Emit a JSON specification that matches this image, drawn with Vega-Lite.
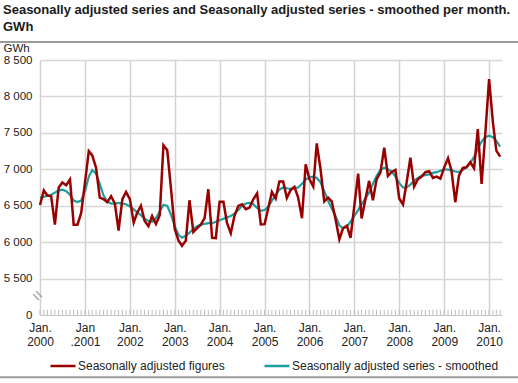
{
  "$schema": "https://vega.github.io/schema/vega-lite/v6.json",
  "width": 462,
  "height": 255,
  "autosize": {"type": "none"},
  "padding": {"left": 40, "top": 60, "right": 16, "bottom": 68},
  "background": "white",
  "config": {"font": "Liberation Sans", "view": {"stroke": null}},
  "title": {
    "text": ["Seasonally adjusted series and Seasonally adjusted series - smoothed per month.", "GWh"],
    "anchor": "start",
    "frame": "group",
    "dx": -37,
    "offset": 7,
    "fontSize": 13,
    "fontWeight": "bold",
    "font": "Liberation Sans",
    "color": "#1a1a1a",
    "lineHeight": 17
  },
  "data": {"values": [
    {"d":"2000-01-01","a":6510,"s":6610},{"d":"2000-02-01","a":6710,"s":6620},{"d":"2000-03-01","a":6640,"s":6640},{"d":"2000-04-01","a":6630,"s":6650},
    {"d":"2000-05-01","a":6240,"s":6680},{"d":"2000-06-01","a":6750,"s":6710},{"d":"2000-07-01","a":6820,"s":6720},{"d":"2000-08-01","a":6780,"s":6700},
    {"d":"2000-09-01","a":6860,"s":6650},{"d":"2000-10-01","a":6240,"s":6570},{"d":"2000-11-01","a":6240,"s":6550},{"d":"2000-12-01","a":6400,"s":6570},
    {"d":"2001-01-01","a":6820,"s":6700},{"d":"2001-02-01","a":7250,"s":6900},{"d":"2001-03-01","a":7190,"s":6990},{"d":"2001-04-01","a":7020,"s":6940},
    {"d":"2001-05-01","a":6610,"s":6800},{"d":"2001-06-01","a":6590,"s":6640},{"d":"2001-07-01","a":6550,"s":6560},{"d":"2001-08-01","a":6630,"s":6530},
    {"d":"2001-09-01","a":6530,"s":6530},{"d":"2001-10-01","a":6160,"s":6540},{"d":"2001-11-01","a":6590,"s":6530},{"d":"2001-12-01","a":6690,"s":6520},
    {"d":"2002-01-01","a":6590,"s":6490},{"d":"2002-02-01","a":6270,"s":6450},{"d":"2002-03-01","a":6400,"s":6410},{"d":"2002-04-01","a":6500,"s":6370},
    {"d":"2002-05-01","a":6290,"s":6320},{"d":"2002-06-01","a":6220,"s":6290},{"d":"2002-07-01","a":6360,"s":6280},{"d":"2002-08-01","a":6250,"s":6330},
    {"d":"2002-09-01","a":6370,"s":6420},{"d":"2002-10-01","a":7330,"s":6510},{"d":"2002-11-01","a":7260,"s":6500},{"d":"2002-12-01","a":6740,"s":6380},
    {"d":"2003-01-01","a":6180,"s":6220},{"d":"2003-02-01","a":6020,"s":6100},{"d":"2003-03-01","a":5950,"s":6060},{"d":"2003-04-01","a":6020,"s":6090},
    {"d":"2003-05-01","a":6575,"s":6130},{"d":"2003-06-01","a":6140,"s":6180},{"d":"2003-07-01","a":6190,"s":6220},{"d":"2003-08-01","a":6240,"s":6240},
    {"d":"2003-09-01","a":6330,"s":6250},{"d":"2003-10-01","a":6726,"s":6260},{"d":"2003-11-01","a":6060,"s":6260},{"d":"2003-12-01","a":6055,"s":6280},
    {"d":"2004-01-01","a":6553,"s":6300},{"d":"2004-02-01","a":6553,"s":6320},{"d":"2004-03-01","a":6265,"s":6340},{"d":"2004-04-01","a":6123,"s":6360},
    {"d":"2004-05-01","a":6361,"s":6390},{"d":"2004-06-01","a":6498,"s":6440},{"d":"2004-07-01","a":6520,"s":6500},{"d":"2004-08-01","a":6452,"s":6530},
    {"d":"2004-09-01","a":6475,"s":6540},{"d":"2004-10-01","a":6589,"s":6520},{"d":"2004-11-01","a":6671,"s":6470},{"d":"2004-12-01","a":6242,"s":6430},
    {"d":"2005-01-01","a":6247,"s":6440},{"d":"2005-02-01","a":6475,"s":6490},{"d":"2005-03-01","a":6690,"s":6570},{"d":"2005-04-01","a":6598,"s":6650},
    {"d":"2005-05-01","a":6831,"s":6720},{"d":"2005-06-01","a":6831,"s":6750},{"d":"2005-07-01","a":6607,"s":6740},{"d":"2005-08-01","a":6717,"s":6730},
    {"d":"2005-09-01","a":6758,"s":6740},{"d":"2005-10-01","a":6612,"s":6750},{"d":"2005-11-01","a":6329,"s":6800},{"d":"2005-12-01","a":7068,"s":6860},
    {"d":"2006-01-01","a":6863,"s":6890},{"d":"2006-02-01","a":6763,"s":6900},{"d":"2006-03-01","a":7356,"s":6880},{"d":"2006-04-01","a":7000,"s":6820},
    {"d":"2006-05-01","a":6557,"s":6700},{"d":"2006-06-01","a":6612,"s":6570},{"d":"2006-07-01","a":6560,"s":6460},{"d":"2006-08-01","a":6315,"s":6360},
    {"d":"2006-09-01","a":6040,"s":6230},{"d":"2006-10-01","a":6190,"s":6190},{"d":"2006-11-01","a":6226,"s":6210},{"d":"2006-12-01","a":6060,"s":6280},
    {"d":"2007-01-01","a":6500,"s":6360},{"d":"2007-02-01","a":6941,"s":6440},{"d":"2007-03-01","a":6326,"s":6520},{"d":"2007-04-01","a":6590,"s":6600},
    {"d":"2007-05-01","a":6841,"s":6680},{"d":"2007-06-01","a":6576,"s":6800},{"d":"2007-07-01","a":6863,"s":6910},{"d":"2007-08-01","a":6954,"s":6990},
    {"d":"2007-09-01","a":7296,"s":7020},{"d":"2007-10-01","a":6909,"s":7000},{"d":"2007-11-01","a":6963,"s":6970},{"d":"2007-12-01","a":6991,"s":6900},
    {"d":"2008-01-01","a":6599,"s":6810},{"d":"2008-02-01","a":6517,"s":6750},{"d":"2008-03-01","a":6818,"s":6750},{"d":"2008-04-01","a":7159,"s":6790},
    {"d":"2008-05-01","a":6763,"s":6840},{"d":"2008-06-01","a":6863,"s":6880},{"d":"2008-07-01","a":6900,"s":6910},{"d":"2008-08-01","a":6960,"s":6920},
    {"d":"2008-09-01","a":6973,"s":6930},{"d":"2008-10-01","a":6881,"s":6950},{"d":"2008-11-01","a":6900,"s":6960},{"d":"2008-12-01","a":6872,"s":6980},
    {"d":"2009-01-01","a":7027,"s":7000},{"d":"2009-02-01","a":7151,"s":6995},{"d":"2009-03-01","a":6982,"s":6985},{"d":"2009-04-01","a":6548,"s":6970},
    {"d":"2009-05-01","a":6913,"s":6960},{"d":"2009-06-01","a":7018,"s":6990},{"d":"2009-07-01","a":7027,"s":7030},{"d":"2009-08-01","a":7096,"s":7090},
    {"d":"2009-09-01","a":7014,"s":7170},{"d":"2009-10-01","a":7552,"s":7280},{"d":"2009-11-01","a":6799,"s":7380},{"d":"2009-12-01","a":7484,"s":7440},
    {"d":"2010-01-01","a":8237,"s":7460},{"d":"2010-02-01","a":7644,"s":7440},{"d":"2010-03-01","a":7256,"s":7390},{"d":"2010-04-01","a":7174,"s":7310}
  ]},
  "layer": [
    {
      "data": {"values": [{"y": 8747}, {"y": 4145}]},
      "mark": {"type": "rule", "color": "#9a9a9a", "strokeWidth": 2},
      "encoding": {
        "x": {"datum": {"year": 1998, "month": 1, "date": 1, "utc": true}, "type": "temporal",
              "scale": {"type": "utc", "domain": [{"year": 2000, "month": 1, "date": 1, "utc": true}, {"year": 2010, "month": 4, "date": 16, "utc": true}]},
              "axis": {
                "values": [
                  {"year": 2000, "month": 1, "date": 1, "utc": true}, {"year": 2001, "month": 1, "date": 1, "utc": true},
                  {"year": 2002, "month": 1, "date": 1, "utc": true}, {"year": 2003, "month": 1, "date": 1, "utc": true},
                  {"year": 2004, "month": 1, "date": 1, "utc": true}, {"year": 2005, "month": 1, "date": 1, "utc": true},
                  {"year": 2006, "month": 1, "date": 1, "utc": true}, {"year": 2007, "month": 1, "date": 1, "utc": true},
                  {"year": 2008, "month": 1, "date": 1, "utc": true}, {"year": 2009, "month": 1, "date": 1, "utc": true},
                  {"year": 2010, "month": 1, "date": 1, "utc": true}
                ],
                "labelExpr": "utcyear(datum.value) == 2001 ? ['Jan', '.2001'] : ['Jan.', '' + utcyear(datum.value)]",
                "title": null,
                "tickSize": 0,
                "domainColor": "#c4c4c4",
                "domainWidth": 1,
                "grid": true,
                "gridColor": "#d2d2d2",
                "gridWidth": 1.5,
                "labelFontSize": 12,
                "labelColor": "#222",
                "labelPadding": 7,
                "labelLineHeight": 14,
                "labelAngle": 0,
                "labelAlign": "center",
                "labelBaseline": "top",
                "labelOverlap": false,
                "labelFlush": false
              }},
        "x2": {"datum": {"year": 2012, "month": 1, "date": 1, "utc": true}},
        "y": {"field": "y", "type": "quantitative", "scale": {"domain": [5000, 8500], "nice": false, "zero": false},
              "axis": {
                "values": [5000, 5500, 6000, 6500, 7000, 7500, 8000, 8500],
                "tickCount": 8,
                "labelExpr": "datum.value == 5000 ? '0' : replace(format(datum.value, ','), ',', ' ')",
                "labelOverlap": false,
                "labelFlush": false,
                "tickSize": 0,
                "domain": false,
                "labelPadding": 8,
                "labelFontSize": 11.5,
                "labelColor": "#222",
                "grid": true,
                "gridColor": {"condition": {"test": "datum.value == 5000", "value": "transparent"}, "value": "#d6d6d6"},
                "gridWidth": 1.5,
                "title": "GWh",
                "titleAngle": 0,
                "titleX": -37,
                "titleY": -9,
                "titleAlign": "left",
                "titleBaseline": "alphabetic",
                "titleFontWeight": "normal",
                "titleFontSize": 11.5,
                "titleColor": "#222"
              }}
      }
    },
    {
      "mark": {"type": "rule", "color": "#bdbdbd", "strokeWidth": 1},
      "encoding": {
        "x": {"field": "d", "type": "temporal",
              "scale": {"type": "utc", "domain": [{"year": 2000, "month": 1, "date": 1, "utc": true}, {"year": 2010, "month": 4, "date": 16, "utc": true}]}},
        "y": {"datum": 5000, "type": "quantitative", "scale": {"domain": [5000, 8500], "nice": false, "zero": false}},
        "y2": {"datum": 5070}
      }
    },
    {
      "mark": {"type": "line", "strokeWidth": 2.2},
      "encoding": {
        "x": {"field": "d", "type": "temporal",
              "scale": {"type": "utc", "domain": [{"year": 2000, "month": 1, "date": 1, "utc": true}, {"year": 2010, "month": 4, "date": 16, "utc": true}]}},
        "y": {"field": "s", "type": "quantitative", "scale": {"domain": [5000, 8500], "nice": false, "zero": false}},
        "color": {"datum": "Seasonally adjusted series - smoothed", "type": "nominal"}
      }
    },
    {
      "mark": {"type": "line", "strokeWidth": 2.5},
      "encoding": {
        "x": {"field": "d", "type": "temporal",
              "scale": {"type": "utc", "domain": [{"year": 2000, "month": 1, "date": 1, "utc": true}, {"year": 2010, "month": 4, "date": 16, "utc": true}]}},
        "y": {"field": "a", "type": "quantitative", "scale": {"domain": [5000, 8500], "nice": false, "zero": false}},
        "color": {"datum": "Seasonally adjusted figures", "type": "nominal",
                  "scale": {"domain": ["Seasonally adjusted figures", "Seasonally adjusted series - smoothed"], "range": ["#990000", "#1a9e9e"]},
                  "legend": {
                    "title": null,
                    "orient": "none",
                    "legendX": 9,
                    "legendY": 292,
                    "direction": "horizontal",
                    "symbolType": "stroke",
                    "symbolSize": 625,
                    "symbolStrokeWidth": 2.5,
                    "labelFontSize": 12,
                    "labelColor": "#222",
                    "labelOffset": 1,
                    "columnPadding": 34,
                    "padding": 0,
                    "labelLimit": 400
                  }}
      }
    },
    {
      "data": {"values": [{"t": "="}]},
      "mark": {"type": "text", "angle": 45, "fontSize": 17, "color": "#a0a0a0"},
      "encoding": {
        "x": {"datum": {"year": 1999, "month": 12, "date": 8, "utc": true}, "type": "temporal",
              "scale": {"type": "utc", "domain": [{"year": 2000, "month": 1, "date": 1, "utc": true}, {"year": 2010, "month": 4, "date": 16, "utc": true}]}},
        "y": {"datum": 5261, "type": "quantitative", "scale": {"domain": [5000, 8500], "nice": false, "zero": false}},
        "text": {"field": "t"}
      }
    }
  ]
}
